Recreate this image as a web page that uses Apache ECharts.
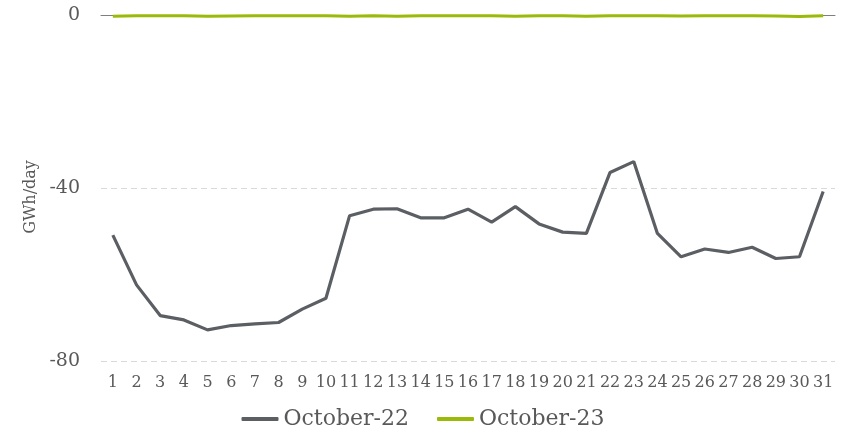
<!DOCTYPE html>
<html>
<head>
<meta charset="utf-8">
<script src="https://cdn.jsdelivr.net/npm/echarts@6/dist/echarts.min.js"></script>
<style>html,body{margin:0;padding:0;background:#fff}#c{width:846px;height:436px}</style>
</head>
<body>
<div id="c"></div>
<script>
const days = ['1','2','3','4','5','6','7','8','9','10','11','12','13','14','15','16','17','18','19','20','21','22','23','24','25','26','27','28','29','30','31'];
const october22 = [-50.9,-62.4,-69.5,-70.5,-72.8,-71.8,-71.4,-71.1,-68.0,-65.5,-46.4,-44.9,-44.8,-46.9,-46.9,-44.9,-47.9,-44.3,-48.3,-50.2,-50.5,-36.4,-33.9,-50.5,-55.9,-54.1,-54.9,-53.7,-56.3,-55.9,-40.8];
const october23 = [-0.3,-0.2,-0.2,-0.2,-0.3,-0.25,-0.2,-0.2,-0.2,-0.2,-0.3,-0.2,-0.3,-0.2,-0.2,-0.2,-0.2,-0.3,-0.2,-0.2,-0.3,-0.2,-0.2,-0.2,-0.25,-0.2,-0.2,-0.2,-0.25,-0.35,-0.2];
const yTicks = [0, -40, -80];

const FONT = 'DejaVu Serif';
const TXT = '#595959';
const chart = echarts.init(document.getElementById('c'));
chart.setOption({
  animation: false,
  textStyle: {fontFamily: FONT},
  grid: {left: 101, right: 11, top: 15, bottom: 75},
  legend: {
    bottom: 1,
    left: 'center',
    icon: 'roundRect',
    itemWidth: 37,
    itemHeight: 4,
    itemGap: 28,
    textStyle: {fontFamily: FONT, fontSize: 22, color: TXT},
    data: ['October-22', 'October-23']
  },
  xAxis: [{
    type: 'category',
    data: days,
    boundaryGap: true,
    position: 'bottom',
    axisLine: {show: false, onZero: false},
    axisTick: {show: false},
    axisLabel: {fontFamily: FONT, fontSize: 16, color: TXT, margin: 14, interval: 0}
  }, {
    type: 'category',
    data: days,
    position: 'top',
    axisLine: {show: true, onZero: false, lineStyle: {color: '#7f7f7f', width: 1}},
    axisTick: {show: false},
    axisLabel: {show: false}
  }],
  yAxis: {
    type: 'value',
    min: yTicks[2],
    max: yTicks[0],
    interval: 40,
    name: 'GWh/day',
    nameLocation: 'middle',
    nameGap: 62,
    nameTextStyle: {fontFamily: FONT, fontSize: 16, color: TXT, padding: [0, 0, 0, -18]},
    axisLine: {show: false},
    axisTick: {show: false},
    axisLabel: {fontFamily: FONT, fontSize: 19, color: TXT, margin: 21},
    splitLine: {show: true, lineStyle: {color: '#d9d9d9', type: [6, 4], width: 1}}
  },
  series: [{
    name: 'October-22',
    type: 'line',
    data: october22,
    symbol: 'none',
    lineStyle: {color: '#5b5e63', width: 3.2},
    itemStyle: {color: '#5b5e63'}
  }, {
    name: 'October-23',
    type: 'line',
    data: october23,
    symbol: 'none',
    lineStyle: {color: '#9aba0a', width: 3},
    itemStyle: {color: '#9aba0a'}
  }]
});
</script>
</body>
</html>
